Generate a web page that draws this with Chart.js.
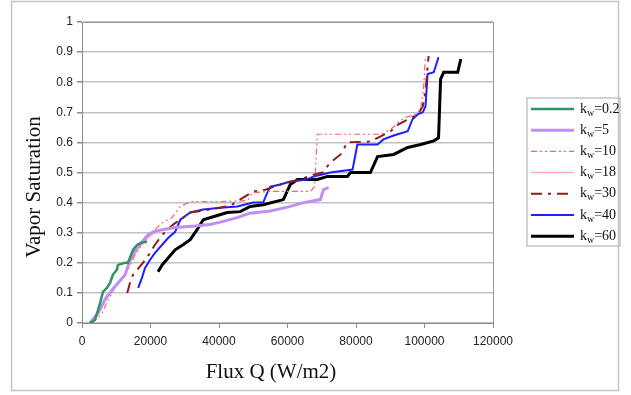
<!DOCTYPE html>
<html>
<head>
<meta charset="utf-8">
<script src="https://cdn.jsdelivr.net/npm/chart.js@4.4.0/dist/chart.umd.min.js"></script>
<style>
  html, body { margin: 0; padding: 0; background: #fff; }
  #wrap { width: 631px; height: 395px; }
</style>
</head>
<body>
<div id="wrap"><canvas id="fluxChart" width="631" height="395"></canvas></div>
<script>
// kw values shown in the legend
const kwLabels = ['0.2', '5', '10', '18', '30', '40', '60'];

// flux Q (W/m2) and vapor saturation, one pair of arrays per kw
const fluxKw02 = [2300, 3800, 5300, 6100, 7300, 8200, 9000, 10200, 10500, 12600, 13400, 14000, 14900, 16100, 17500, 19000];
const satKw02  = [0, 0.01, 0.067, 0.103, 0.117, 0.133, 0.16, 0.177, 0.193, 0.2, 0.2, 0.217, 0.243, 0.26, 0.267, 0.27];

const fluxKw5 = [2300, 4700, 6700, 8800, 10500, 12600, 14000, 15500, 17500, 19300, 20800, 23400, 27200, 33000, 37400, 40400, 45300, 49000, 55000, 60000, 64700, 69600, 70500, 72000];
const satKw5  = [0, 0.033, 0.077, 0.11, 0.133, 0.16, 0.21, 0.243, 0.27, 0.293, 0.303, 0.31, 0.317, 0.322, 0.327, 0.335, 0.35, 0.365, 0.372, 0.385, 0.4, 0.41, 0.443, 0.45];

const fluxKw10 = [2900, 5800, 7600, 9600, 11700, 13400, 15500, 17500, 19300, 21300, 23400, 26300, 28700, 31600, 40400, 48300, 49700, 55000, 66700, 67900, 68700, 87200, 90100, 92400, 94500, 97400, 98900, 99700, 100300];
const satKw10  = [0, 0.03, 0.077, 0.117, 0.143, 0.177, 0.227, 0.26, 0.287, 0.31, 0.333, 0.35, 0.387, 0.403, 0.403, 0.407, 0.433, 0.437, 0.437, 0.453, 0.627, 0.627, 0.643, 0.667, 0.683, 0.693, 0.71, 0.777, 0.887];

const fluxKw18 = [2600, 5000, 7000, 9500, 12000, 14000, 16000, 18000, 20000, 21500];
const satKw18  = [0, 0.04, 0.09, 0.12, 0.15, 0.2, 0.24, 0.27, 0.29, 0.3];

const fluxKw30 = [13200, 14000, 14900, 17800, 19900, 21300, 22800, 24300, 26600, 31600, 37400, 43300, 50000, 53500, 57900, 63800, 67600, 70200, 72500, 75500, 77500, 84200, 90100, 92400, 98000, 99500, 100300, 100900, 101200];
const satKw30  = [0.1, 0.133, 0.16, 0.2, 0.233, 0.26, 0.283, 0.303, 0.327, 0.367, 0.377, 0.39, 0.437, 0.443, 0.46, 0.477, 0.493, 0.5, 0.533, 0.56, 0.6, 0.603, 0.637, 0.66, 0.693, 0.72, 0.77, 0.85, 0.887];

const fluxKw40 = [16400, 17500, 18400, 19900, 21300, 23400, 25200, 27200, 28700, 31600, 35400, 40400, 45300, 50000, 52900, 54100, 55000, 57900, 60800, 65800, 67600, 72500, 79000, 80400, 86300, 88000, 91000, 95100, 96500, 98000, 99500, 100300, 100900, 102700, 104100];
const satKw40  = [0.117, 0.15, 0.183, 0.21, 0.233, 0.26, 0.283, 0.303, 0.343, 0.367, 0.377, 0.383, 0.387, 0.4, 0.4, 0.433, 0.453, 0.46, 0.47, 0.477, 0.487, 0.5, 0.51, 0.593, 0.593, 0.61, 0.623, 0.637, 0.677, 0.693, 0.7, 0.72, 0.827, 0.833, 0.883];

const fluxKw60 = [22200, 23400, 25200, 27200, 29500, 31600, 33600, 35400, 38300, 42400, 46200, 49100, 52900, 58800, 60800, 62900, 68700, 71700, 77500, 78400, 84200, 86300, 91000, 95100, 98900, 102700, 104100, 104700, 105600, 109700, 110600];
const satKw60  = [0.17, 0.193, 0.217, 0.243, 0.26, 0.277, 0.31, 0.343, 0.353, 0.367, 0.37, 0.387, 0.393, 0.41, 0.46, 0.477, 0.477, 0.487, 0.487, 0.5, 0.5, 0.553, 0.56, 0.583, 0.593, 0.605, 0.615, 0.81, 0.833, 0.833, 0.877];

const xTicks = [0, 20000, 40000, 60000, 80000, 100000, 120000];

function toPoints(xs, ys) {
  return xs.map((x, i) => ({ x: x, y: ys[i] }));
}

const series = [
  { flux: fluxKw02, sat: satKw02, color: '#2f9465', width: 2.5, dash: [] },
  { flux: fluxKw5,  sat: satKw5,  color: '#bf8ff2', width: 3,   dash: [] },
  { flux: fluxKw10, sat: satKw10, color: '#ff6464', width: 1.2, dash: [6, 3, 2, 3, 2, 3] },
  { flux: fluxKw18, sat: satKw18, color: '#ffa6cc', width: 1.5, dash: [] },
  { flux: fluxKw30, sat: satKw30, color: '#8e1c1c', width: 2,   dash: [11, 6, 3, 6] },
  { flux: fluxKw40, sat: satKw40, color: '#1f1fff', width: 2,   dash: [] },
  { flux: fluxKw60, sat: satKw60, color: '#000000', width: 3,   dash: [] }
];

const datasets = series.map((s, i) => ({
  label: 'kw=' + kwLabels[i],
  data: toPoints(s.flux, s.sat),
  showLine: true,
  borderColor: s.color,
  backgroundColor: s.color,
  borderWidth: s.width,
  borderDash: s.dash,
  pointRadius: 0,
  tension: 0
}));

// plot frame, outer border, axis titles and the boxed legend
const decorPlugin = {
  id: 'decor',
  afterDraw(chart) {
    const ctx = chart.ctx;
    const area = chart.chartArea;
    ctx.save();

    ctx.strokeStyle = '#c4c4c4';
    ctx.lineWidth = 1.5;
    ctx.strokeRect(11.5, 1.5, 607, 389);

    ctx.strokeStyle = '#9a9a9a';
    ctx.lineWidth = 1;
    ctx.beginPath();
    ctx.moveTo(area.left, area.top + 0.5);
    ctx.lineTo(area.right + 0.5, area.top + 0.5);
    ctx.lineTo(area.right + 0.5, area.bottom);
    ctx.stroke();

    ctx.fillStyle = '#111';
    ctx.font = '21px "Liberation Serif", "Times New Roman", serif';
    ctx.textAlign = 'center';
    ctx.textBaseline = 'middle';
    ctx.fillText('Flux Q (W/m2)', 271, 372);
    ctx.save();
    ctx.translate(34, 187);
    ctx.rotate(-Math.PI / 2);
    ctx.fillText('Vapor Saturation', 0, 0);
    ctx.restore();

    // legend
    ctx.strokeStyle = '#c4c4c4';
    ctx.lineWidth = 1.5;
    ctx.strokeRect(527, 98, 93, 148);
    chart.data.datasets.forEach((ds, i) => {
      const y = 109 + i * 21.2;
      ctx.strokeStyle = ds.borderColor;
      ctx.lineWidth = ds.borderWidth;
      ctx.setLineDash(ds.borderDash);
      ctx.beginPath();
      ctx.moveTo(531, y);
      ctx.lineTo(574, y);
      ctx.stroke();
      ctx.setLineDash([]);

      ctx.fillStyle = '#111';
      ctx.textAlign = 'left';
      ctx.textBaseline = 'middle';
      let x = 580;
      ctx.font = '14px "Liberation Serif", "Times New Roman", serif';
      ctx.fillText('k', x, y);
      x += ctx.measureText('k').width;
      ctx.font = '10px "Liberation Serif", "Times New Roman", serif';
      ctx.fillText('w', x, y + 4);
      x += ctx.measureText('w').width;
      ctx.font = '14px "Liberation Serif", "Times New Roman", serif';
      ctx.fillText('=' + kwLabels[i], x, y);
    });
    ctx.restore();
  }
};

const ctx = document.getElementById('fluxChart').getContext('2d');
const fluxChart = new Chart(ctx, {
  type: 'scatter',
  data: { datasets: datasets },
  options: {
    responsive: false,
    animation: false,
    layout: { padding: { top: 22, right: 138, bottom: 0, left: 0 } },
    plugins: {
      legend: { display: false },
      tooltip: { enabled: false }
    },
    scales: {
      x: {
        type: 'linear',
        min: 0,
        max: 120000,
        afterFit: (scale) => { scale.height = 72; },
        afterBuildTicks: (scale) => { scale.ticks = xTicks.map(v => ({ value: v })); },
        ticks: {
          color: '#222',
          font: { family: '"Liberation Sans", Arial, sans-serif', size: 12 },
          padding: 6,
          maxRotation: 0,
          callback: (v) => String(v)
        },
        grid: { drawOnChartArea: false, drawTicks: true, tickLength: 5, color: '#8a8a8a' },
        border: { display: true, color: '#8a8a8a', width: 1 }
      },
      y: {
        min: 0,
        max: 1,
        afterFit: (scale) => { scale.width = 82; },
        ticks: {
          stepSize: 0.1,
          color: '#222',
          font: { family: '"Liberation Sans", Arial, sans-serif', size: 12 },
          padding: 4,
          callback: (v) => String(Math.round(v * 10) / 10)
        },
        grid: { color: '#c2c2c2', lineWidth: 1.5, drawTicks: true, tickLength: 5, tickColor: '#8a8a8a' },
        border: { display: true, color: '#8a8a8a', width: 1 }
      }
    }
  },
  plugins: [decorPlugin]
});
</script>
</body>
</html>
